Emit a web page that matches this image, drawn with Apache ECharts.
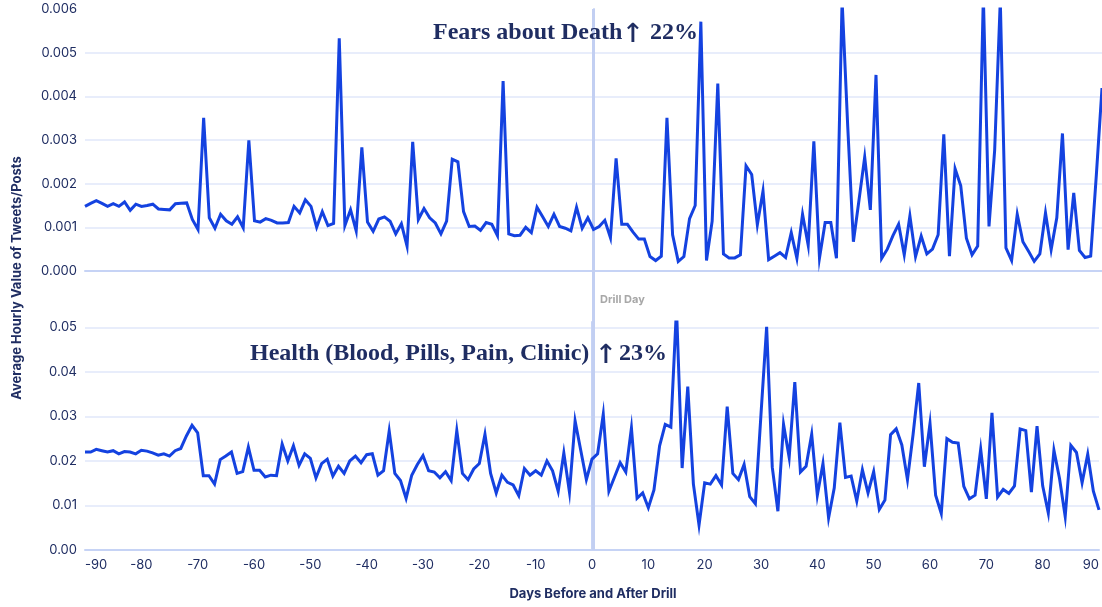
<!DOCTYPE html>
<html>
<head>
<meta charset="utf-8">
<script src="https://cdn.jsdelivr.net/npm/echarts@6/dist/echarts.min.js"></script>
<style>
  html, body { margin: 0; padding: 0; background: #fff; }
  #chart { width: 1102px; height: 607px; }
</style>
</head>
<body>
<div id="chart"></div>
<script>
// days before / after the drill, one value per day
const firstDay = -90;
const lastDay = 90;

// Fears about Death, -90 .. 90
const deathValues = [
  0.00148, 0.00155, 0.00161, 0.00155, 0.00148, 0.00154, 0.00148, 0.00158, 0.00139, 0.00153,
  0.00148, 0.00150, 0.00153, 0.00142, 0.00141, 0.00140, 0.00154, 0.00155, 0.00156, 0.00118,
  0.00095, 0.00351, 0.00122, 0.00098, 0.00130, 0.00115, 0.00107, 0.00124, 0.00099, 0.00299,
  0.00115, 0.00112, 0.00120, 0.00116, 0.00110, 0.00110, 0.00111, 0.00148, 0.00133, 0.00163,
  0.00148, 0.00100, 0.00136, 0.00104, 0.00109, 0.00533, 0.00104, 0.00140, 0.00092, 0.00283,
  0.00112, 0.00091, 0.00119, 0.00124, 0.00114, 0.00085, 0.00108, 0.00057, 0.00296, 0.00118,
  0.00143, 0.00122, 0.00110, 0.00085, 0.00114, 0.00256, 0.00250, 0.00136, 0.00102, 0.00103,
  0.00093, 0.00111, 0.00107, 0.00081, 0.00435, 0.00085, 0.00081, 0.00082, 0.00100, 0.00088,
  0.00146, 0.00124, 0.00102, 0.00130, 0.00102, 0.00098, 0.00092, 0.00146, 0.00098, 0.00122,
  0.00095, 0.00102, 0.00116, 0.00076, 0.00258, 0.00107, 0.00107, 0.00089, 0.00073, 0.00073,
  0.00033, 0.00024, 0.00034, 0.00351, 0.00083, 0.00022, 0.00033, 0.00120, 0.00150, 0.00571,
  0.00024, 0.00114, 0.00429, 0.00039, 0.00030, 0.00030, 0.00037, 0.00241, 0.00221, 0.00106,
  0.00183, 0.00026, 0.00034, 0.00042, 0.00031, 0.00088, 0.00029, 0.00130, 0.00059, 0.00297,
  0.00030, 0.00111, 0.00111, 0.00029, 0.00620, 0.00330, 0.00067, 0.00163, 0.00261, 0.00140,
  0.00449, 0.00029, 0.00050, 0.00081, 0.00107, 0.00037, 0.00126, 0.00033, 0.00080, 0.00039,
  0.00050, 0.00083, 0.00313, 0.00034, 0.00234, 0.00195, 0.00075, 0.00037, 0.00057, 0.00630,
  0.00102, 0.00276, 0.00620, 0.00053, 0.00024, 0.00130, 0.00067, 0.00045, 0.00022, 0.00039,
  0.00133, 0.00049, 0.00122, 0.00315, 0.00049, 0.00179, 0.00047, 0.00031, 0.00034, 0.00220,
  0.00419
];

// Health (Blood, Pills, Pain, Clinic), -90 .. 90
const healthValues = [
  0.0220, 0.0220, 0.0226, 0.0223, 0.0220, 0.0223, 0.0216, 0.0221, 0.0220, 0.0216,
  0.0224, 0.0222, 0.0218, 0.0213, 0.0216, 0.0211, 0.0223, 0.0228, 0.0256, 0.0280,
  0.0263, 0.0167, 0.0167, 0.0148, 0.0203, 0.0211, 0.0220, 0.0172, 0.0176, 0.0231,
  0.0179, 0.0179, 0.0164, 0.0168, 0.0167, 0.0238, 0.0200, 0.0234, 0.0190, 0.0216,
  0.0206, 0.0162, 0.0194, 0.0204, 0.0166, 0.0188, 0.0172, 0.0200, 0.0211, 0.0196,
  0.0214, 0.0216, 0.0168, 0.0178, 0.0267, 0.0172, 0.0156, 0.0116, 0.0168, 0.0192,
  0.0212, 0.0178, 0.0175, 0.0162, 0.0176, 0.0156, 0.0268, 0.0172, 0.0158, 0.0182,
  0.0194, 0.0260, 0.0172, 0.0128, 0.0168, 0.0152, 0.0146, 0.0122, 0.0183, 0.0168,
  0.0178, 0.0168, 0.0200, 0.0178, 0.0132, 0.0218, 0.0130, 0.0290, 0.0224, 0.0158,
  0.0204, 0.0216, 0.0305, 0.0132, 0.0164, 0.0196, 0.0175, 0.0274, 0.0116, 0.0128,
  0.0095, 0.0135, 0.0234, 0.0282, 0.0276, 0.0543, 0.0184, 0.0367, 0.0148, 0.0056,
  0.0151, 0.0148, 0.0167, 0.0146, 0.0322, 0.0172, 0.0158, 0.0192, 0.0120, 0.0104,
  0.0305, 0.0501, 0.0186, 0.0087, 0.0282, 0.0208, 0.0377, 0.0175, 0.0188, 0.0260,
  0.0123, 0.0194, 0.0072, 0.0139, 0.0286, 0.0163, 0.0166, 0.0110, 0.0180, 0.0128,
  0.0176, 0.0091, 0.0112, 0.0259, 0.0272, 0.0236, 0.0158, 0.0260, 0.0375, 0.0187,
  0.0284, 0.0123, 0.0082, 0.0250, 0.0242, 0.0240, 0.0143, 0.0115, 0.0123, 0.0226,
  0.0115, 0.0308, 0.0119, 0.0136, 0.0127, 0.0144, 0.0272, 0.0268, 0.0130, 0.0278,
  0.0144, 0.0083, 0.0224, 0.0160, 0.0075, 0.0235, 0.0219, 0.0151, 0.0215, 0.0132,
  0.0090
];

const xTicks = [-90, -80, -70, -60, -50, -40, -30, -20, -10, 0, 10, 20, 30, 40, 50, 60, 70, 80, 90];
const deathTicks = [0, 0.001, 0.002, 0.003, 0.004, 0.005, 0.006];
const healthTicks = [0, 0.01, 0.02, 0.03, 0.04, 0.05];
const drillDay = 0;

const navy = '#1f2d62';
const lineBlue = '#1442e0';
const axisBlue = '#c6d3f5';
const gridBlue = '#e0e7fa';
const sans = 'Inter';

function toPairs(values) {
  return values.map((v, i) => [firstDay + i, v]);
}

let chart = echarts.init(document.getElementById('chart'), null, { renderer: 'canvas' });

function xAxisFor(gridIndex, showLabels) {
  return {
    type: 'value',
    gridIndex: gridIndex,
    min: firstDay,
    max: lastDay,
    interval: xTicks[1] - xTicks[0],
    axisLine: { show: true, lineStyle: { color: axisBlue, width: 2 } },
    axisTick: { show: false },
    splitLine: { show: false },
    axisLabel: {
      show: showLabels,
      color: navy,
      fontFamily: sans,
      fontSize: 13,
      margin: 9,
      alignMinLabel: 'left',
      alignMaxLabel: 'right'
    }
  };
}

function yAxisFor(gridIndex, ticks, digits, max) {
  return {
    type: 'value',
    gridIndex: gridIndex,
    min: ticks[0],
    max: max,
    interval: ticks[1] - ticks[0],
    axisLine: { show: true, lineStyle: { color: axisBlue, width: 2 } },
    axisTick: { show: false },
    splitLine: { show: true, showMaxLine: false, lineStyle: { color: gridBlue, width: 1.5 } },
    axisLabel: {
      color: navy,
      fontFamily: sans,
      fontSize: 13,
      margin: 8,
      showMaxLabel: max === ticks[ticks.length - 1],
      formatter: v => v.toFixed(digits)
    }
  };
}

option = {
  backgroundColor: '#fff',
  animation: false,
  grid: [
    { left: 85, right: 0, top: 9, height: 262 },
    { left: 85, right: 0, top: 322, height: 228 },
    { left: 85, right: 0, top: 9, height: 541 }
  ],
  xAxis: [
    xAxisFor(0, false),
    xAxisFor(1, true),
    { type: 'value', gridIndex: 2, min: firstDay, max: lastDay, show: false }
  ],
  yAxis: [
    yAxisFor(0, deathTicks, 3, deathTicks[deathTicks.length - 1]),
    yAxisFor(1, healthTicks, 2, 0.0512),
    { type: 'value', gridIndex: 2, min: 0, max: 1, show: false }
  ],
  series: [
    {
      name: 'Drill Day',
      type: 'line',
      xAxisIndex: 2,
      yAxisIndex: 2,
      silent: true,
      symbol: 'none',
      z: 1,
      lineStyle: { color: '#c2cff2', width: 3 },
      data: [[drillDay, 0], [drillDay, 1]]
    },
    {
      name: 'Fears about Death',
      type: 'line',
      xAxisIndex: 0,
      yAxisIndex: 0,
      symbol: 'none',
      z: 3,
      lineStyle: { color: lineBlue, width: 3, join: 'miter' },
      data: toPairs(deathValues)
    },
    {
      name: 'Health (Blood, Pills, Pain, Clinic)',
      type: 'line',
      xAxisIndex: 1,
      yAxisIndex: 1,
      symbol: 'none',
      z: 3,
      lineStyle: { color: lineBlue, width: 3, join: 'miter' },
      data: toPairs(healthValues)
    }
  ],
  graphic: [
    {
      type: 'text',
      x: 17,
      y: 278,
      rotation: Math.PI / 2,
      style: {
        text: 'Average Hourly Value of Tweets/Posts',
        font: 'bold 13px ' + sans,
        fill: navy,
        align: 'center',
        verticalAlign: 'middle'
      }
    },
    {
      type: 'text',
      x: 593,
      y: 594,
      style: {
        text: 'Days Before and After Drill',
        font: 'bold 13px ' + sans,
        fill: navy,
        align: 'center',
        verticalAlign: 'middle'
      }
    },
    {
      type: 'text',
      x: 600,
      y: 300,
      style: {
        text: 'Drill Day',
        font: 'bold 11px ' + sans,
        fill: '#a8a8a8',
        align: 'left',
        verticalAlign: 'middle'
      }
    },
    {
      type: 'text',
      x: 433,
      y: 33,
      z: 10,
      style: {
        text: '{a|Fears about Death}{b|↑}{a| 22%}',
        align: 'left',
        verticalAlign: 'middle',
        rich: {
          a: { fontFamily: 'Liberation Serif', fontWeight: 'bold', fontSize: 24, fill: navy },
          b: { fontFamily: 'DejaVu Sans Mono', fontSize: 36, fill: navy }
        }
      }
    },
    {
      type: 'text',
      x: 250,
      y: 354,
      z: 10,
      style: {
        text: '{a|Health (Blood, Pills, Pain, Clinic)}{b|↑}{a|23%}',
        align: 'left',
        verticalAlign: 'middle',
        rich: {
          a: { fontFamily: 'Liberation Serif', fontWeight: 'bold', fontSize: 24, fill: navy },
          b: { fontFamily: 'DejaVu Sans Mono', fontSize: 36, fill: navy, padding: [0, 2, 0, 6] }
        }
      }
    }
  ]
};

chart.setOption(option);

window.onresize = function () {
  chart.resize();
};
</script>
</body>
</html>
